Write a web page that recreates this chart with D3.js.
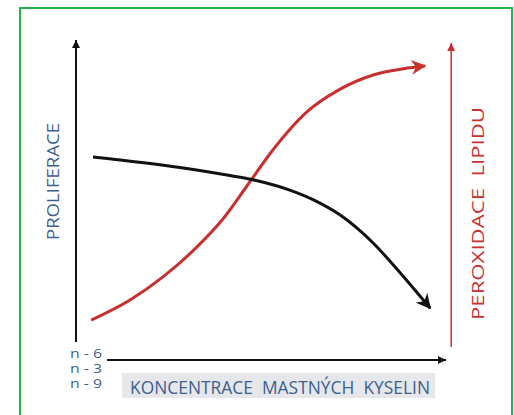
<!DOCTYPE html>
<html>
<head>
<meta charset="utf-8">
<script src="https://d3js.org/d3.v7.min.js"></script>
<style>
  body { margin: 0; background: #fff; }
  text { font-family: "Open Sans", sans-serif; white-space: pre; }
</style>
</head>
<body>
<svg id="chart" width="514" height="415"></svg>
<script>
// data (concentration 0-100, response 0-100)
var prolifX = [4.6, 28.1, 41.6, 48.4, 57.8, 64.6, 71.4, 80.3, 87.6, 95.7];
var prolifY = [61.7, 58.2, 55.5, 53.9, 50.6, 47.1, 42.3, 33.0, 23.1, 11.3];
var peroxX = [4.1, 14.6, 23.5, 32.7, 39.7, 46.2, 53.2, 62.4, 71.4, 80.3, 89.5, 94.3];
var peroxY = [7.3, 14.0, 21.7, 31.7, 41.0, 52.0, 64.0, 76.7, 84.3, 89.0, 91.3, 92.0];
var seriesLabels = ["n - 6", "n - 3", "n - 9"];
var xTitle = "KONCENTRACE  MASTNÝCH  KYSELIN";
var yTitleLeft = "PROLIFERACE";
var yTitleRight = "PEROXIDACE  LIPIDU";

var svg = d3.select("#chart");
var x = d3.scaleLinear().domain([0, 100]).range([76, 446]);
var y = d3.scaleLinear().domain([0, 100]).range([342, 42]);

var red = "#c8302f", blue = "#3e5f8f";

// frame
svg.append("rect")
  .attr("x", 20).attr("y", 8).attr("width", 492).attr("height", 420)
  .attr("fill", "none").attr("stroke", "#2bb24c").attr("stroke-width", 2);

// markers
var defs = svg.append("defs");
function smallArrow(id, color) {
  defs.append("marker").attr("id", id)
    .attr("markerUnits", "userSpaceOnUse")
    .attr("viewBox", "0 0 10 10").attr("refX", 10).attr("refY", 5)
    .attr("markerWidth", 9).attr("markerHeight", 8).attr("orient", "auto")
    .append("path").attr("d", "M0,0 L10,5 L0,10 Z").attr("fill", color);
}
function bigArrow(id, color) {
  defs.append("marker").attr("id", id)
    .attr("markerUnits", "userSpaceOnUse")
    .attr("viewBox", "0 0 10 10").attr("refX", 9).attr("refY", 5)
    .attr("markerWidth", 16).attr("markerHeight", 15).attr("orient", "auto")
    .append("path").attr("d", "M0,0 L10,5 L0,10 L3,5 Z").attr("fill", color);
}
smallArrow("ax-black", "#111");
smallArrow("ax-red", red);
bigArrow("cv-black", "#111");
bigArrow("cv-red", red);

// left axis
svg.append("line")
  .attr("x1", x(0)).attr("x2", x(0))
  .attr("y1", y(0)).attr("y2", y(100) - 2)
  .attr("stroke", "#111").attr("stroke-width", 2)
  .attr("marker-end", "url(#ax-black)");

// bottom axis
svg.append("line")
  .attr("x1", x(8.4)).attr("x2", x(100))
  .attr("y1", y(0) + 18).attr("y2", y(0) + 18)
  .attr("stroke", "#111").attr("stroke-width", 2)
  .attr("marker-end", "url(#ax-black)");

// right axis
svg.append("line")
  .attr("x1", x(101.4)).attr("x2", x(101.4))
  .attr("y1", y(0) + 5).attr("y2", y(100) + 1)
  .attr("stroke", red).attr("stroke-width", 1.5)
  .attr("marker-end", "url(#ax-red)");

// curves
var line = d3.line()
  .x(function(d) { return x(d[0]); })
  .y(function(d) { return y(d[1]); })
  .curve(d3.curveMonotoneX);

svg.append("path")
  .datum(d3.zip(peroxX, peroxY))
  .attr("d", line)
  .attr("fill", "none").attr("stroke", red).attr("stroke-width", 3)
  .attr("marker-end", "url(#cv-red)");

svg.append("path")
  .datum(d3.zip(prolifX, prolifY))
  .attr("d", line)
  .attr("fill", "none").attr("stroke", "#111").attr("stroke-width", 3)
  .attr("marker-end", "url(#cv-black)");

// series labels
svg.selectAll(".nlab")
  .data(seriesLabels)
  .enter().append("text")
  .attr("class", "nlab")
  .attr("x", 70)
  .attr("y", function(d, i) { return 358 + i * 15; })
  .attr("font-size", 13)
  .attr("fill", blue)
  .attr("textLength", 32).attr("lengthAdjust", "spacingAndGlyphs")
  .text(function(d) { return d; });

// x title
svg.append("rect")
  .attr("x", 122).attr("y", 373).attr("width", 313).attr("height", 25)
  .attr("fill", "#e5e7eb");
svg.append("text")
  .attr("x", 130).attr("y", 394)
  .attr("font-size", 19)
  .attr("fill", blue)
  .attr("textLength", 300).attr("lengthAdjust", "spacingAndGlyphs")
  .text(xTitle);

// y titles
svg.append("text")
  .attr("transform", "translate(59,240) rotate(-90)")
  .attr("font-size", 17)
  .attr("fill", blue)
  .attr("textLength", 117).attr("lengthAdjust", "spacingAndGlyphs")
  .text(yTitleLeft);

svg.append("text")
  .attr("transform", "translate(484,320) rotate(-90)")
  .attr("font-size", 17)
  .attr("fill", red)
  .attr("textLength", 213).attr("lengthAdjust", "spacingAndGlyphs")
  .text(yTitleRight);
</script>
</body>
</html>
